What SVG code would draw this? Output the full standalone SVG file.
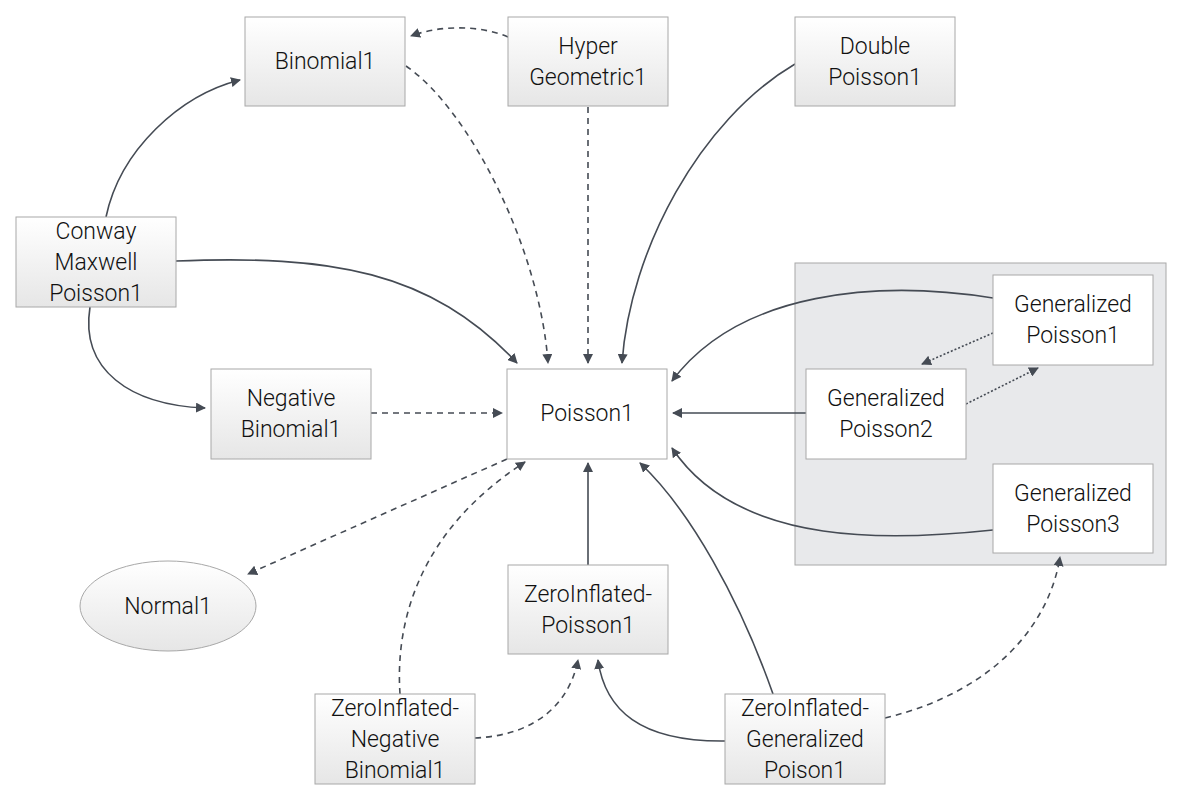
<svg xmlns="http://www.w3.org/2000/svg" width="1190" height="800" viewBox="0 0 1190 800">
<defs>
<linearGradient id="g" x1="0" y1="0" x2="0" y2="1">
<stop offset="0" stop-color="#ffffff"/>
<stop offset="1" stop-color="#e6e6e6"/>
</linearGradient>
<marker id="a" viewBox="0 0 10 10" refX="9" refY="5" markerWidth="10" markerHeight="10" markerUnits="userSpaceOnUse" orient="auto">
<path d="M0,0 L10,5 L0,10 Z" fill="#454b54"/>
</marker>
<style>
.n{fill:url(#g);stroke:#a8a8a8;stroke-width:1}
.w{fill:#ffffff;stroke:#a8a8a8;stroke-width:1}
text{font-family:Roboto,"Liberation Sans",sans-serif;font-weight:300;font-size:23px;fill:#111;text-anchor:middle}
.e{fill:none;stroke:#454b54;stroke-width:1.6;marker-end:url(#a)}
.d{stroke-dasharray:6 5}
.o{stroke-dasharray:2 2}
</style>
</defs>
<rect x="795" y="263" width="371" height="302" fill="#e8e9eb" stroke="#a8a8a8"/>
<g id="connectors">
<path class="e d" d="M508,37 C480,25 440,25 411,36"/>
<path class="e d" d="M406,66 C470,110 540,250 548,363"/>
<path class="e d" d="M588,107 L588,363"/>
<path class="e" d="M795,64 C700,120 630,250 622,363"/>
<path class="e" d="M106,217 C120,150 180,95 240,80"/>
<path class="e" d="M176,261 C330,255 430,270 517,363"/>
<path class="e" d="M90,307 C80,370 130,405 205,408"/>
<path class="e d" d="M371,413 L502,413"/>
<path class="e" d="M993,298 C880,280 740,290 672,381"/>
<path class="e" d="M806,413 L673,413"/>
<path class="e" d="M993,530 C900,540 740,550 672,448"/>
<path class="e o" d="M993,333 L922,364"/>
<path class="e o" d="M966,404 L1038,368"/>
<path class="e d" d="M507,459 L248,574"/>
<path class="e d" d="M400,694 C395,620 420,530 525,462"/>
<path class="e d" d="M475,738 C540,735 570,700 578,660"/>
<path class="e" d="M588,565 L588,463"/>
<path class="e" d="M725,741 C640,742 605,710 598,660"/>
<path class="e" d="M773,694 C740,600 690,510 640,463"/>
<path class="e d" d="M885,718 C1000,690 1050,620 1060,557"/>
</g>
<g id="Binomial1"><rect class="n" x="245" y="17" width="160" height="89"/><text x="325" y="69">Binomial1</text></g>
<g id="HyperGeometric1"><rect class="n" x="508" y="17" width="160" height="89"/><text x="588" y="54">Hyper</text><text x="588" y="85">Geometric1</text></g>
<g id="DoublePoisson1"><rect class="n" x="795" y="17" width="160" height="89"/><text x="875" y="54">Double</text><text x="875" y="85">Poisson1</text></g>
<g id="ConwayMaxwellPoisson1"><rect class="n" x="16" y="217" width="160" height="90"/><text x="96" y="239">Conway</text><text x="96" y="270">Maxwell</text><text x="96" y="301">Poisson1</text></g>
<g id="NegativeBinomial1"><rect class="n" x="211" y="369" width="160" height="90"/><text x="291" y="406">Negative</text><text x="291" y="437">Binomial1</text></g>
<g id="Poisson1"><rect class="w" x="507" y="369" width="160" height="90"/><text x="587" y="421">Poisson1</text></g>
<g id="GeneralizedPoisson1"><rect class="w" x="993" y="275" width="160" height="90"/><text x="1073" y="312">Generalized</text><text x="1073" y="343">Poisson1</text></g>
<g id="GeneralizedPoisson2"><rect class="w" x="806" y="369" width="160" height="90"/><text x="886" y="406">Generalized</text><text x="886" y="437">Poisson2</text></g>
<g id="GeneralizedPoisson3"><rect class="w" x="993" y="464" width="160" height="89"/><text x="1073" y="501">Generalized</text><text x="1073" y="532">Poisson3</text></g>
<g id="Normal1"><ellipse cx="168" cy="606" rx="88" ry="45" fill="url(#g)" stroke="#a8a8a8"/><text x="168" y="614">Normal1</text></g>
<g id="ZeroInflatedPoisson1"><rect class="n" x="508" y="565" width="160" height="89"/><text x="588" y="602">ZeroInflated-</text><text x="588" y="633">Poisson1</text></g>
<g id="ZeroInflatedNegativeBinomial1"><rect class="n" x="315" y="694" width="160" height="90"/><text x="395" y="716">ZeroInflated-</text><text x="395" y="747">Negative</text><text x="395" y="778">Binomial1</text></g>
<g id="ZeroInflatedGeneralizedPoison1"><rect class="n" x="725" y="694" width="160" height="90"/><text x="805" y="716">ZeroInflated-</text><text x="805" y="747">Generalized</text><text x="805" y="778">Poison1</text></g>
</svg>
